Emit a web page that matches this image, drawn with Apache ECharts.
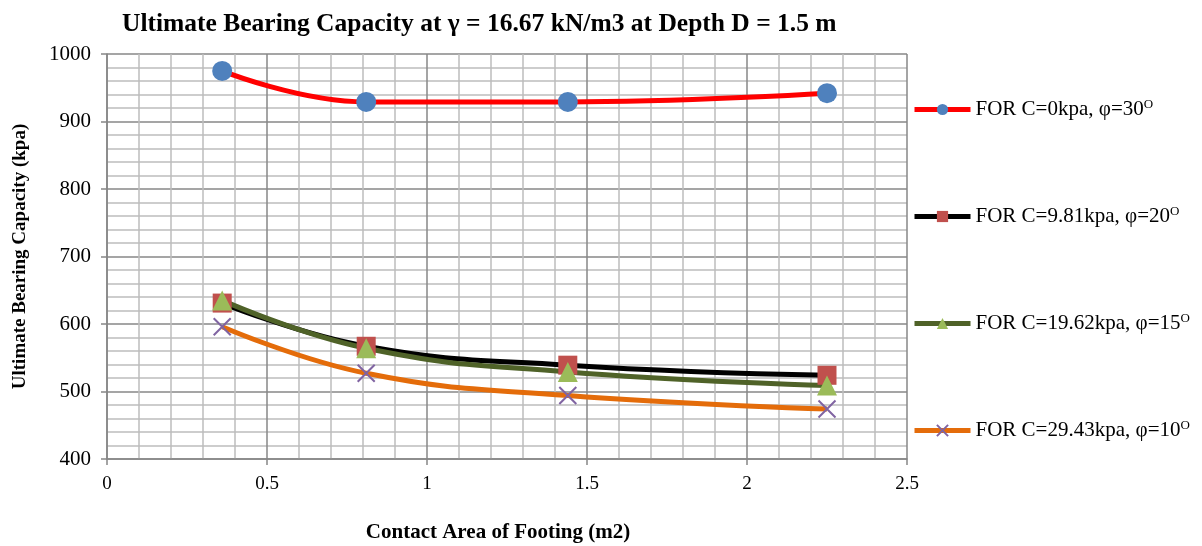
<!DOCTYPE html>
<html>
<head>
<meta charset="utf-8">
<script src="https://cdn.jsdelivr.net/npm/echarts@6/dist/echarts.min.js"></script>
<style>
  html, body { margin: 0; padding: 0; background: #fff; }
  #chart { width: 1202px; height: 546px; }
</style>
</head>
<body>
<div id="chart"></div>
<script>
// contact area of footing (m2)
const areas = [0.36, 0.81, 1.44, 2.25]

// ultimate bearing capacity (kpa), one array per soil case
const c0phi30 = [975, 929, 929, 942]
const c981phi20 = [631, 567, 539, 524]
const c1962phi15 = [635, 564, 529, 509]
const c2943phi10 = [596, 527, 494, 474]

const seriesNames = [
  'FOR C=0kpa, φ=30',
  'FOR C=9.81kpa, φ=20',
  'FOR C=19.62kpa, φ=15',
  'FOR C=29.43kpa, φ=10'
]

const serif = '"Liberation Serif", "Times New Roman", serif'
const xMark = 'path://M0,0 L10,10 M10,0 L0,10'

const pairs = vals => areas.map((a, i) => [a, vals[i]])

const makeSeries = (name, vals, lineColor, symbol, symColor, size, extra) => ({
  name,
  type: 'line',
  smooth: 0.45,
  data: pairs(vals),
  symbol,
  symbolSize: size,
  lineStyle: { color: lineColor, width: 5 },
  itemStyle: Object.assign({ color: symColor }, extra || {}),
  emphasis: { disabled: true }
})

const chart = echarts.init(document.getElementById('chart'))
chart.setOption({
  animation: false,
  title: {
    text: 'Ultimate Bearing Capacity at γ = 16.67 kN/m3 at Depth D = 1.5 m',
    left: 117,
    top: 6,
    textStyle: { fontFamily: serif, fontWeight: 'bold', fontSize: 25.5, color: '#000' }
  },
  legend: {
    orient: 'vertical',
    left: 907,
    top: 93,
    itemWidth: 56,
    itemHeight: 14,
    itemGap: 85,
    lineStyle: { width: 5 },
    textStyle: {
      fontFamily: serif,
      fontSize: 21,
      color: '#000',
      rich: {
        t: { fontFamily: serif, fontSize: 21, color: '#000' },
        s: { fontFamily: serif, fontSize: 13, color: '#000', padding: [0, 0, 10, 0] }
      }
    },
    formatter: name => `{t|${name}}{s|O}`,
    data: seriesNames
  },
  grid: { left: 107, right: 295, top: 54, bottom: 87, outerBoundsMode: 'none', containLabel: false },
  xAxis: {
    type: 'value',
    min: 0,
    max: 2.5,
    interval: 0.5,
    name: 'Contact Area of Footing (m2)',
    nameLocation: 'middle',
    nameGap: 63,
    nameTextStyle: { fontFamily: serif, fontWeight: 'bold', fontSize: 21, color: '#000', padding: [0, 18, 0, 0] },
    axisLine: { onZero: false, lineStyle: { color: '#868686', width: 1.5 } },
    axisTick: { show: true, length: 6, lineStyle: { color: '#868686', width: 1.5 } },
    axisLabel: { fontFamily: serif, fontSize: 19, color: '#000', margin: 16 },
    splitLine: { show: true, lineStyle: { color: '#878787', width: 1.5 } },
    minorTick: { show: false, splitNumber: 5 },
    minorSplitLine: { show: true, lineStyle: { color: '#bdbdbd', width: 1.5 } }
  },
  yAxis: {
    type: 'value',
    min: 400,
    max: 1000,
    interval: 100,
    name: 'Ultimate Bearing Capacity (kpa)',
    nameLocation: 'middle',
    nameGap: 77,
    nameRotate: 90,
    nameTextStyle: { fontFamily: serif, fontWeight: 'bold', fontSize: 19, color: '#000' },
    axisLine: { show: true, lineStyle: { color: '#868686', width: 1.5 } },
    axisTick: { show: true, length: 6, lineStyle: { color: '#868686', width: 1.5 } },
    axisLabel: { fontFamily: serif, fontSize: 21, color: '#000', margin: 16, formatter: v => String(v) },
    splitLine: { show: true, lineStyle: { color: '#878787', width: 1.5 } },
    minorTick: { show: false, splitNumber: 5 },
    minorSplitLine: { show: true, lineStyle: { color: '#bdbdbd', width: 1.5 } }
  },
  series: [
    makeSeries(seriesNames[0], c0phi30, '#ff0000', 'circle', '#4f81bd', 20),
    makeSeries(seriesNames[1], c981phi20, '#000000', 'rect', '#c0504d', 19),
    makeSeries(seriesNames[2], c1962phi15, '#4f6228', 'triangle', '#9bbb59', 20),
    makeSeries(seriesNames[3], c2943phi10, '#e46c0a', xMark, '#8064a2', 17,
      { borderColor: '#8064a2', borderWidth: 2 })
  ]
})
</script>
</body>
</html>
